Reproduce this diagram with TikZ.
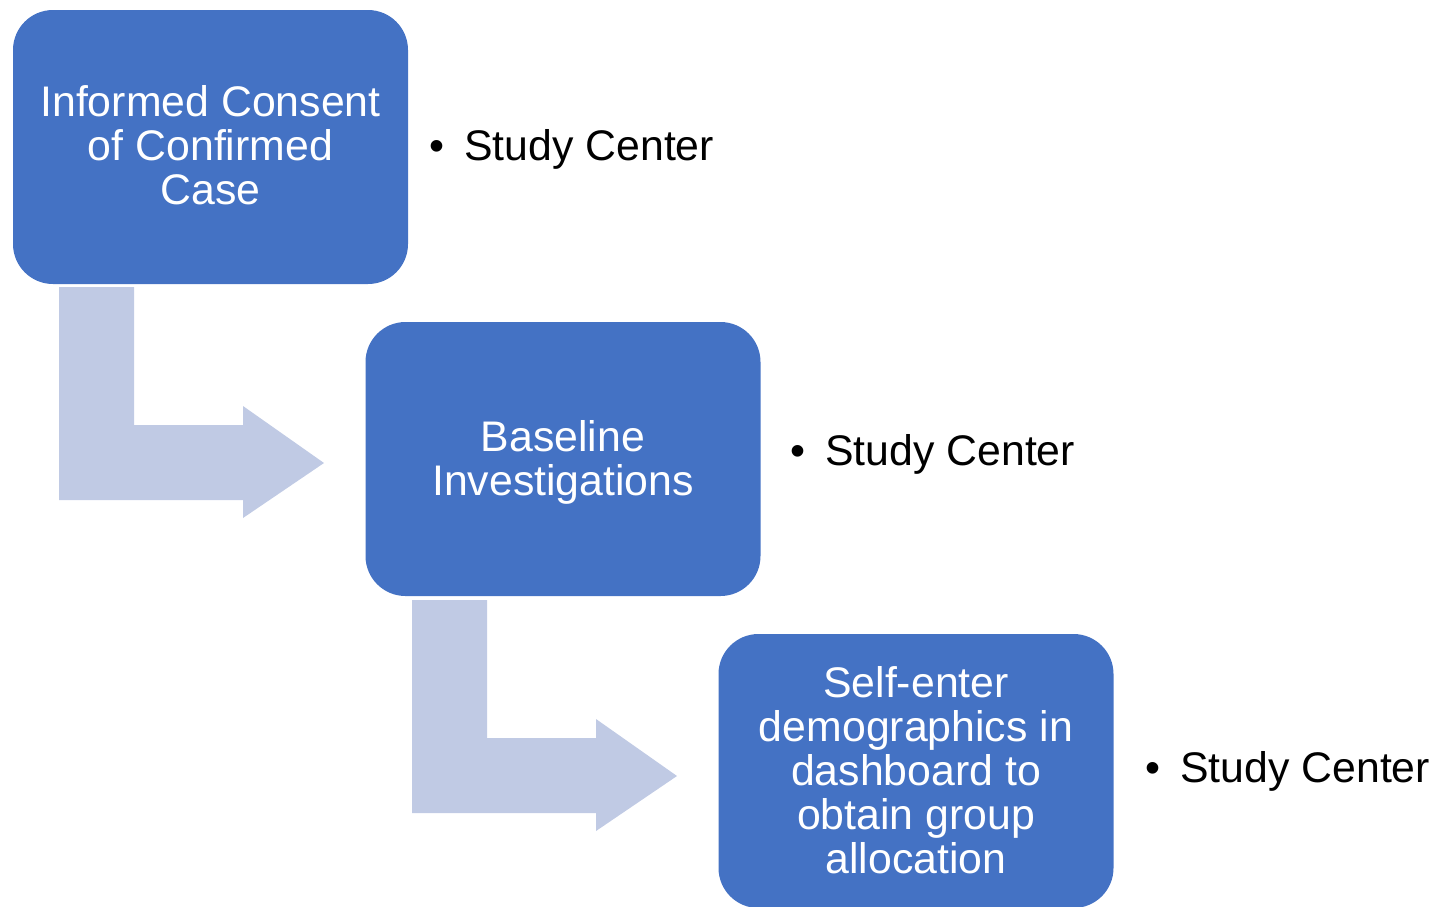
\documentclass[tikz,border=0pt]{standalone}
\usepackage{fontspec}
\setmainfont{Liberation Sans}
\definecolor{boxblue}{HTML}{4472C4}
\definecolor{arrowblue}{HTML}{C0CAE4}
\begin{document}
\begin{tikzpicture}[x=1pt,y=-1pt,
  stepbox/.style={fill=boxblue,draw=none,rounded corners=40pt,minimum width=395pt,minimum height=274pt,inner sep=0pt},
  boxtext/.style={text=white,align=center,inner sep=0pt,font=\fontsize{42.8}{44}\selectfont},
  bullettext/.style={text=black,anchor=base west,inner sep=0pt,font=\fontsize{42.8}{44}\selectfont},
  bentarrow/.style={fill=arrowblue,draw=none}]
\useasboundingbox (0,0) rectangle (1437,906);
\clip (0,0) rectangle (1437,906);
% boxes
\node[stepbox] (b1) at (210.5,147) {};
\node[stepbox] (b2) at (563,459) {};
\node[stepbox] (b3) at (916,771) {};
\node[boxtext] (t1) at ([yshift=2pt]b1.center) {Informed Consent\\of Confirmed\\Case};
\node[boxtext] (t2) at ([yshift=-3pt]b2.center) {Baseline\\Investigations};
\node[boxtext] (t3) at ([yshift=1pt]b3.center) {Self-enter\\demographics in\\dashboard to\\obtain group\\allocation};
% bent arrows
\coordinate (a1) at (59,287);
\fill[bentarrow] (a1) -- ++(75,0) -- ++(0,138) -- ++(109,0) -- ++(0,-19) -- ++(81,57) -- ++(-81,55) -- ++(0,-18) -- ++(-184,0) -- cycle;
\coordinate (a2) at (412,600);
\fill[bentarrow] (a2) -- ++(75,0) -- ++(0,138) -- ++(109,0) -- ++(0,-19) -- ++(81,57) -- ++(-81,55) -- ++(0,-18) -- ++(-184,0) -- cycle;
% side labels
\node[bullettext] (s1) at (429,160) {•\hspace{20pt}Study Center};
\node[bullettext] (s2) at (790,465) {•\hspace{20pt}Study Center};
\node[bullettext] (s3) at (1145,782) {•\hspace{20pt}Study Center};
\end{tikzpicture}
\end{document}
